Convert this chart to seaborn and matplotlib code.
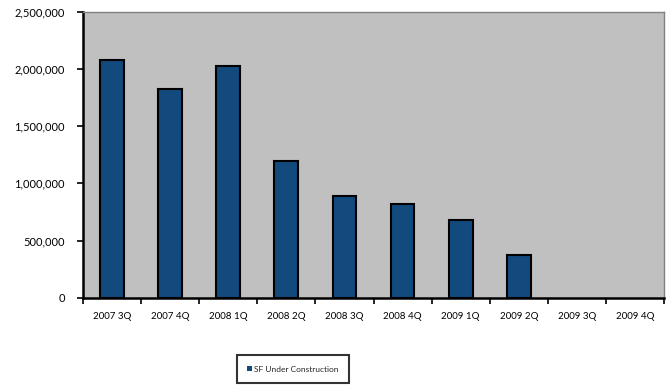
import matplotlib
matplotlib.use("Agg")
import matplotlib.pyplot as plt
import seaborn as sns
import pandas as pd
import numpy as np
from matplotlib.ticker import FuncFormatter, FixedLocator

quarters = ["2007 3Q", "2007 4Q", "2008 1Q", "2008 2Q", "2008 3Q",
            "2008 4Q", "2009 1Q", "2009 2Q", "2009 3Q", "2009 4Q"]
sf_under_construction = [2075000, 1824000, 2025000, 1195000, 886000,
                         822000, 676000, 373000, 0, 0]
series_name = "SF Under Construction"
y_ticks = [0, 500000, 1000000, 1500000, 2000000, 2500000]

df = pd.DataFrame({"quarter": quarters, "value": sf_under_construction,
                   "series": series_name})

sns.set_theme(style="white")
plt.rcParams["font.family"] = ["Lato", "DejaVu Sans"]

fig = plt.figure(figsize=(6.68, 3.85), dpi=100)
ax = fig.add_axes([83/668, 1 - 297.7/385, (664-83)/668, (297.7-11.7)/385])
ax.set_facecolor("#c0c0c0")

sns.barplot(data=df, x="quarter", y="value", hue="series", ax=ax,
            palette=["#124a7e"], width=0.41, edgecolor="black",
            linewidth=1.5, legend=True, saturation=1)

for p in ax.patches:
    if p.get_height() == 0:
        p.set_linewidth(0)

ax.set_ylim(0, 2500000)
ax.set_xlim(-0.5, len(quarters) - 0.5)
ax.set_yticks(y_ticks)
ax.yaxis.set_major_formatter(FuncFormatter(lambda v, p: f"{int(v):,}"))
ax.set_xlabel("")
ax.set_ylabel("")

ax.tick_params(axis="x", which="major", length=0, pad=10, labelsize=7, colors="black")
ax.xaxis.set_minor_locator(FixedLocator(np.arange(-0.5, len(quarters), 1.0)))
ax.tick_params(axis="x", which="minor", length=4, width=1.2, direction="out",
               color="black", bottom=True)
ax.tick_params(axis="y", length=4, width=1.2, direction="out", labelsize=8,
               colors="black", left=True, pad=9)

for s in ["left", "bottom"]:
    ax.spines[s].set_color("black")
    ax.spines[s].set_linewidth(1.8)
for s in ["top", "right"]:
    ax.spines[s].set_color("#808080")
    ax.spines[s].set_linewidth(1.0)

handles, labels = ax.get_legend_handles_labels()
ax.get_legend().remove()
leg = fig.legend(handles, labels, loc="center", bbox_to_anchor=(293/668, 1 - 369/385),
                 fontsize=6, frameon=True, fancybox=False, borderpad=1.3,
                 handlelength=0.6, handleheight=0.6, handletextpad=0.2)
leg.get_frame().set_edgecolor("black")
leg.get_frame().set_linewidth(1.5)

fig.savefig("out.png", dpi=100, facecolor="white")
